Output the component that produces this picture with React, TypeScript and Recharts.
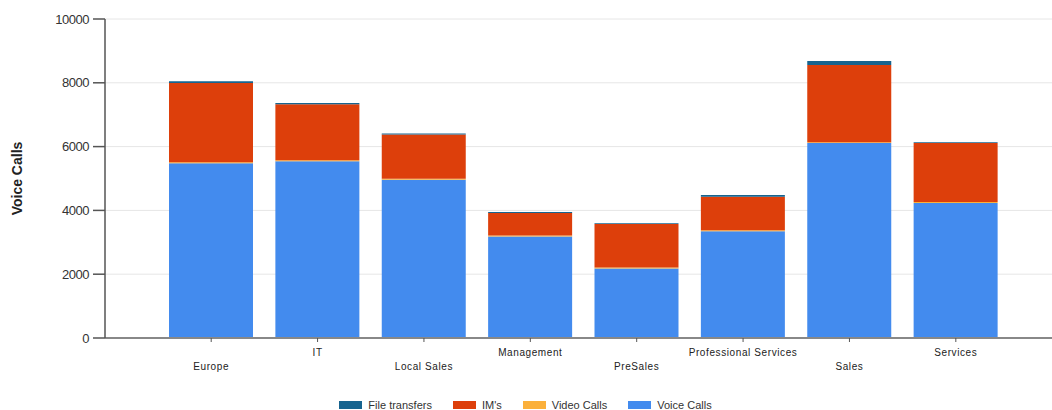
import { Bar, BarChart, CartesianGrid, Legend, XAxis, YAxis } from "recharts"

// departments along the x axis
const categories = [
  "Europe",
  "IT",
  "Local Sales",
  "Management",
  "PreSales",
  "Professional Services",
  "Sales",
  "Services",
]

// stacked series, bottom to top
const voiceCalls = [5480, 5540, 4960, 3180, 2180, 3350, 6110, 4230]
const videoCalls = [30, 30, 30, 30, 30, 30, 30, 30]
const ims = [2480, 1760, 1390, 710, 1360, 1050, 2420, 1850]
const fileTransfers = [60, 40, 30, 30, 30, 50, 120, 30]

const yTicks = [0, 2000, 4000, 6000, 8000, 10000]

const data = categories.map((name, i) => ({
  name,
  voice: voiceCalls[i],
  video: videoCalls[i],
  im: ims[i],
  file: fileTransfers[i],
}))

const font = "'Liberation Sans', Arial, sans-serif"

// legend order as shown in the picture
const legendItems = [
  { label: "File transfers", color: "#17648f" },
  { label: "IM's", color: "#dd3f0b" },
  { label: "Video Calls", color: "#fbb03b" },
  { label: "Voice Calls", color: "#438bee" },
]

const XTick = (props: any) => {
  const { x, y, payload, index } = props
  // labels alternate between two rows
  const dy = index % 2 === 0 ? 26 : 12
  return (
    <text x={x} y={y} dy={dy} textAnchor="middle" fill="#222" fontSize={10} fontFamily={font} letterSpacing={0.6}>
      {payload.value}
    </text>
  )
}

const LegendContent = () => (
  <div
    style={{
      display: "flex",
      justifyContent: "center",
      alignItems: "center",
      paddingTop: 11,
      paddingLeft: 20,
      fontFamily: font,
      fontSize: 11,
      color: "#333",
    }}
  >
    {legendItems.map((item) => (
      <div key={item.label} style={{ display: "flex", alignItems: "center", marginRight: 21 }}>
        <span style={{ display: "inline-block", width: 23, height: 8, background: item.color, marginRight: 6 }} />
        <span>{item.label}</span>
      </div>
    ))}
  </div>
)

export default function App() {
  return (
    <div style={{ position: "absolute", left: 0, top: 0 }}>
      <style>{"body{margin:0}"}</style>
      <BarChart
        width={1052}
        height={410}
        data={data}
        margin={{ top: 19, right: 0, left: 0, bottom: 2 }}
        barCategoryGap={11}
      >
        <CartesianGrid vertical={false} stroke="#e6e6e6" />
        <XAxis
          dataKey="name"
          height={50}
          padding={{ left: 53, right: 43 }}
          stroke="#888"
          strokeWidth={2}
          tickSize={4}
          tickLine={{ stroke: "#555", strokeWidth: 1 }}
          tick={<XTick />}
          interval={0}
        />
        <YAxis
          width={105}
          domain={[0, 10000]}
          ticks={yTicks}
          stroke="#555"
          strokeWidth={1.5}
          tickSize={12}
          tickMargin={4}
          tick={{ fill: "#333", fontSize: 13, fontFamily: font, letterSpacing: -0.5 }}
          label={(props: any) => {
            const vb = props.viewBox
            const cy = vb.y + vb.height / 2
            return (
              <text
                x={22}
                y={cy}
                transform={`rotate(-90 22 ${cy})`}
                textAnchor="middle"
                fill="#222"
                fontSize={14}
                fontWeight="bold"
                fontFamily={font}
              >
                Voice Calls
              </text>
            )
          }}
        />
        <Legend verticalAlign="bottom" height={20} content={<LegendContent />} />
        <Bar dataKey="voice" name="Voice Calls" stackId="a" fill="#438bee" isAnimationActive={false} />
        <Bar dataKey="video" name="Video Calls" stackId="a" fill="#fbb03b" isAnimationActive={false} />
        <Bar dataKey="im" name="IM's" stackId="a" fill="#dd3f0b" isAnimationActive={false} />
        <Bar dataKey="file" name="File transfers" stackId="a" fill="#17648f" isAnimationActive={false} />
      </BarChart>
    </div>
  )
}
